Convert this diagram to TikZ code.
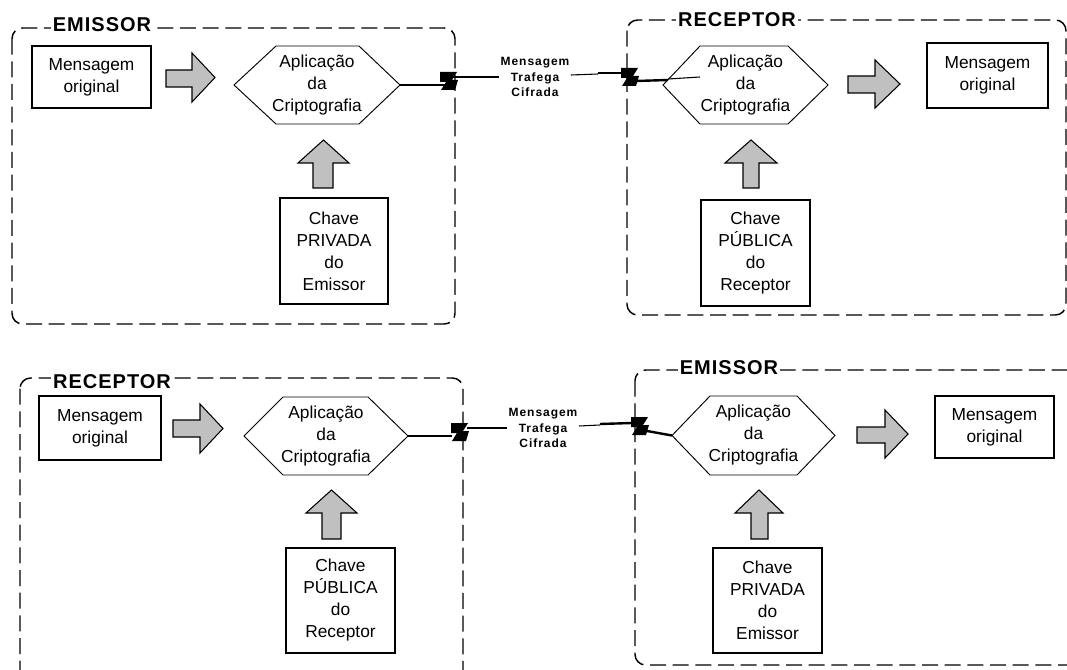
\documentclass[tikz,border=0pt]{standalone}
\usepackage{fontspec}
\setmainfont{Liberation Sans}
\definecolor{arrowgray}{RGB}{192,192,192}

% hexagon "Aplicação da Criptografia": name, left tip x, top-left x, top-right x, right tip x, top y, bottom y
\newcommand\drawhex[7]{%
  \node[hexlabel] (#1) at ({(#2+#5)/2},{(#6+#7)/2}) {Aplicação\\da\\Criptografia};
  \coordinate (#1-l) at (#2,{(#6+#7)/2});
  \coordinate (#1-r) at (#5,{(#6+#7)/2});
  \draw[hexline] (#1-l) -- (#3,#6) -- (#4,#6) -- (#1-r) -- (#4,#7) -- (#3,#7) -- cycle;
}
% framed text box: name, left, top, right, bottom, text
\newcommand\textbox[6]{%
  \node[box, minimum width={(#4-#2)*0.75pt}, minimum height={(#5-#3)*0.75pt}]
    (#1) at ({(#2+#4)/2},{(#3+#5)/2}) {#6};
}
% grey block arrow pointing right: tail x, head base x, tip x, head top, head bottom, shaft top, shaft bottom
\newcommand\rblock[7]{%
  \draw[block] (#1,#6) -- (#2,#6) -- (#2,#4) -- (#3,{(#4+#5)/2}) -- (#2,#5) -- (#2,#7) -- (#1,#7) -- cycle;
}
% grey block arrow pointing up: head left, head right, tip y, head base y, shaft left, shaft right, tail y
\newcommand\ublock[7]{%
  \draw[block] (#5,#7) -- (#5,#4) -- (#1,#4) -- ({(#1+#2)/2},#3) -- (#2,#4) -- (#6,#4) -- (#6,#7) -- cycle;
}
% lightning mark on the channel
\newcommand\boltmark[2]{%
  \fill[shift={(#1,#2)}] (-9,-9) -- (8,-9) -- (3,-1) -- (9,-1) -- (6,9) -- (-8,9) -- (-3,1) -- (-9,1) -- cycle;
}

\begin{document}
\begin{tikzpicture}[x=0.75pt,y=-0.75pt,
  panel/.style={draw, line width=1.1pt, dash pattern=on 12pt off 5pt, rounded corners=8pt},
  paneltitle/.style={fill=white, inner xsep=1.5pt, inner ysep=0pt,
    font=\fontsize{15}{15}\selectfont\bfseries\addfontfeature{LetterSpace=5}},
  box/.style={draw, line width=0.9pt, inner sep=0pt, align=center,
    font=\fontsize{13}{16.5}\selectfont},
  hexlabel/.style={align=center, inner sep=0pt, font=\fontsize{13}{16.5}\selectfont},
  hexline/.style={draw, line width=0.7pt},
  block/.style={draw, line width=0.8pt, fill=arrowgray},
  wire/.style={line width=1.8pt},
  thinwire/.style={line width=0.8pt},
  channel/.style={align=center, inner sep=1pt,
    font=\fontsize{9}{11.5}\selectfont\bfseries\addfontfeature{LetterSpace=8}}
]
\useasboundingbox (0,0) rectangle (1067,670);
\clip (0,0) rectangle (1067,670);

% ---------- panels ----------
\draw[panel] (12,28) rectangle (455,324);
\draw[panel] (627,20) rectangle (1066,315);
\draw[panel] (20,378) rectangle (463,690);
\draw[panel] (635,370) rectangle (1090,665);

\node[paneltitle] (ttl1) at (102,25) {EMISSOR};
\node[paneltitle] (ttl2) at (737,20) {RECEPTOR};
\node[paneltitle] (ttl3) at (112,382) {RECEPTOR};
\node[paneltitle] (ttl4) at (729,368) {EMISSOR};

% ---------- top left: emissor ----------
\textbox{m1}{32}{46}{151}{108}{Mensagem\\original}
\rblock{166}{192}{215}{53}{102}{70}{87}
\drawhex{h1}{234}{276}{359}{400}{46}{124}
\ublock{298}{349}{140}{163}{313}{333}{188}
\textbox{c1}{280}{198}{388}{304}{Chave\\PRIVADA\\do\\Emissor}

% ---------- top right: receptor ----------
\drawhex{h2}{663}{700}{788}{828}{46}{124}
\rblock{848}{875}{900}{60}{108}{76}{93}
\textbox{m2}{927}{43}{1048}{108}{Mensagem\\original}
\ublock{725}{777}{140}{163}{743}{759}{188}
\textbox{c2}{701}{200}{810}{306}{Chave\\PÚBLICA\\do\\Receptor}

% ---------- bottom left: receptor ----------
\textbox{m3}{39}{396}{161}{460}{Mensagem\\original}
\rblock{173}{200}{223}{404}{453}{420}{437}
\drawhex{h3}{244}{283}{368}{408}{397}{475}
\ublock{306}{357}{490}{513}{322}{341}{539}
\textbox{c3}{286}{548}{395}{653}{Chave\\PÚBLICA\\do\\Receptor}

% ---------- bottom right: emissor ----------
\drawhex{h4}{672}{710}{797}{835}{396}{475}
\rblock{857}{885}{908}{410}{458}{427}{443}
\textbox{m4}{935}{396}{1054}{458}{Mensagem\\original}
\ublock{735}{783}{490}{513}{751}{768}{539}
\textbox{c4}{713}{548}{822}{653}{Chave\\PRIVADA\\do\\Emissor}

% ---------- channel, top ----------
\node[channel] (t1) at (535,77) {Mensagem\\Trafega\\Cifrada};
\coordinate (t1in) at (700,77);
\draw[thinwire] (h1-r) -- (418,85);
\draw[wire] (418,85) -- (446,85);
\boltmark{449}{81}
\draw[wire] (452,77) -- (482,77);
\draw[thinwire] (482,77) -- (t1.west |- 0,77);
\draw[thinwire] (t1.east |- 0,75) -- (598,74);
\draw[wire] (598,73) -- (624,73);
\boltmark{630}{77}
\draw[wire] (636,81) -- (668,80);
\draw[thinwire] (668,79) -- (t1in);

% ---------- channel, bottom ----------
\node[channel] (t2) at (543,428) {Mensagem\\Trafega\\Cifrada};
\draw[wire] (h3-r) -- (452,436);
\boltmark{460}{432}
\draw[wire] (467,428) -- (490,428);
\draw[thinwire] (490,428) -- (t2.west |- 0,428);
\draw[thinwire] (t2.east |- 0,426) -- (600,425);
\draw[wire] (600,424) -- (632,423);
\boltmark{640}{426}
\draw[wire] (647,431) -- (h4-l);
\end{tikzpicture}
\end{document}
